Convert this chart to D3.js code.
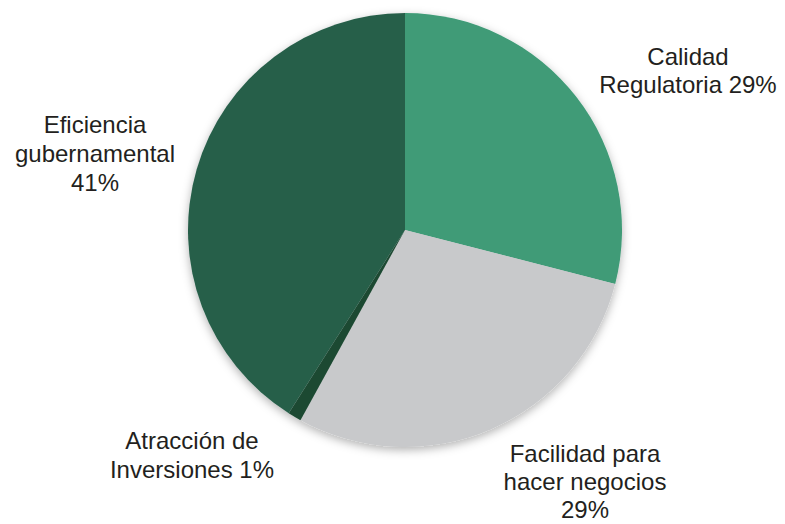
<!DOCTYPE html>
<html>
<head>
<meta charset="utf-8">
<script src="https://cdn.jsdelivr.net/npm/d3@7"></script>
<style>
  body { margin: 0; background: #fff; }
  svg { display: block; }
</style>
</head>
<body>
<div id="chart"></div>
<script>
// slice data, clockwise from 12 o'clock
const categories = ["Calidad Regulatoria", "Facilidad para hacer negocios", "Atracción de Inversiones", "Eficiencia gubernamental"];
const values = [29, 29, 1, 41];
const colors = ["#3f9b77", "#c8c9cb", "#1d4a33", "#285f4a"];
const labelLines = [
    ["Calidad", "Regulatoria 29%"],
    ["Facilidad para", "hacer negocios", "29%"],
    ["Atracción de", "Inversiones 1%"],
    ["Eficiencia", "gubernamental", "41%"]
];
// label anchor (center x, first baseline y, line step)
const labelPos = [[688, 65, 28], [585, 462, 28], [192, 449, 29], [95, 133, 29]];

const width = 785;
const height = 524;
const cx = 405, cy = 230, radius = 217;

const svg = d3.select('#chart')
    .append('svg')
    .attr('width', width)
    .attr('height', height)
    .attr('viewBox', [0, 0, width, height]);

// soft shadow under the pie
const filter = svg.append('defs').append('filter')
    .attr('id', 'shadow')
    .attr('x', '-20%').attr('y', '-20%')
    .attr('width', '140%').attr('height', '140%');
filter.append('feDropShadow')
    .attr('dx', 0).attr('dy', 3)
    .attr('stdDeviation', 5)
    .attr('flood-color', '#000')
    .attr('flood-opacity', 0.3);

const pie = d3.pie().sort(null).value(d => d);
const arc = d3.arc().innerRadius(0).outerRadius(radius);

const g = svg.append('g')
    .attr('transform', `translate(${cx}, ${cy})`)
    .attr('filter', 'url(#shadow)');

g.selectAll('path')
    .data(pie(values))
    .join('path')
        .attr('d', arc)
        .attr('fill', (d, i) => colors[i]);

// labels
const labels = svg.append('g')
    .attr('font-family', 'Liberation Sans, Arial, sans-serif')
    .attr('font-size', '24px')
    .attr('fill', '#231f20')
    .attr('text-anchor', 'middle');

labels.selectAll('text')
    .data(categories)
    .join('text')
        .attr('x', (d, i) => labelPos[i][0])
        .attr('y', (d, i) => labelPos[i][1])
        .selectAll('tspan')
        .data((d, i) => labelLines[i].map(t => ({t, x: labelPos[i][0], step: labelPos[i][2]})))
        .join('tspan')
            .attr('x', d => d.x)
            .attr('dy', (d, j) => j === 0 ? 0 : d.step)
            .text(d => d.t);
</script>
</body>
</html>
